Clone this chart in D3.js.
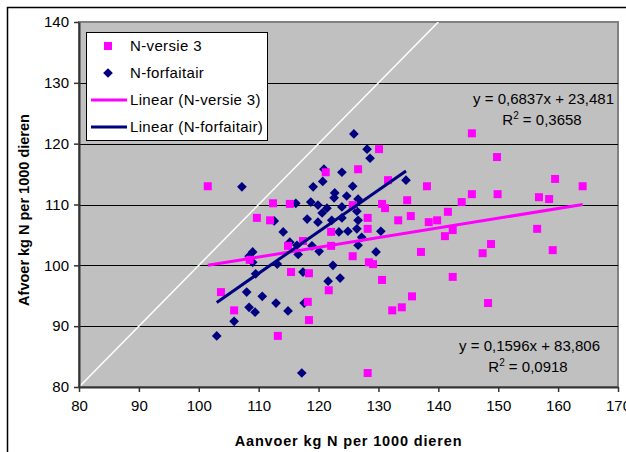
<!DOCTYPE html>
<html>
<head>
<meta charset="utf-8">
<script src="https://cdn.jsdelivr.net/npm/d3@7"></script>
<style>
  body { margin: 0; background: #fff; }
  text { font-family: "Liberation Sans", Arial, sans-serif; }
</style>
</head>
<body>
<svg id="chart" width="626" height="452"></svg>
<script>
// N-versie 3 (pink squares): [aanvoer, afvoer]
var versie3 = [
  [101.5,113.0],[103.7,95.6],[105.9,92.6],[109.7,107.8],[112.4,110.2],[115.2,110.1],
  [111.9,107.4],[108.5,100.9],[117.4,104.0],[114.9,103.2],[122.1,105.5],[122.1,103.2],
  [125.7,101.5],[128.2,107.8],[128.2,106.0],[128.4,100.5],[129.1,100.2],[130.6,97.6],
  [115.4,98.9],[118.4,98.7],[121.7,95.9],[118.2,94.0],[118.4,91.0],[113.2,88.4],
  [128.2,82.3],[121.2,115.3],[126.6,115.8],[130.1,119.1],[131.6,114.0],[125.7,109.9],
  [130.6,110.1],[131.1,109.4],[134.8,110.7],[138.1,113.0],[133.3,107.4],[135.4,108.1],
  [138.4,107.1],[139.8,107.4],[141.6,108.8],[143.9,110.4],[145.6,111.7],[145.6,121.7],
  [149.8,117.8],[149.9,111.7],[156.8,111.2],[158.5,110.9],[159.5,114.2],[164.1,113.0],
  [142.4,105.8],[141.1,104.8],[156.5,106.0],[137.1,102.2],[147.4,102.0],[148.8,103.5],
  [159.1,102.5],[142.4,98.1],[135.6,94.9],[133.9,93.1],[132.3,92.6],[148.3,93.8]
];
// N-forfaitair (navy diamonds)
var forfaitair = [
  [107.2,112.9],[103.0,88.4],[105.9,90.8],[108.4,93.1],[109.4,92.3],[108.0,95.6],
  [110.6,94.9],[112.9,93.8],[114.9,92.5],[117.6,93.8],[117.2,82.3],[109.5,98.6],
  [113.1,100.2],[117.4,98.9],[109.0,100.5],[108.4,101.5],[109.0,102.2],[112.6,107.3],
  [114.1,105.5],[115.2,103.8],[116.4,103.3],[116.6,101.8],[118.9,103.2],[120.1,102.3],
  [118.1,107.6],[119.9,107.1],[122.2,107.4],[123.9,107.8],[126.6,107.4],[116.2,110.2],
  [118.7,110.4],[119.9,109.9],[121.4,109.4],[123.9,109.6],[126.4,108.9],[120.6,108.6],
  [122.6,111.1],[122.7,111.9],[124.7,111.4],[126.6,110.9],[119.1,112.9],[125.7,113.0],
  [120.7,113.8],[120.9,115.8],[123.9,115.3],[125.9,121.6],[128.1,119.1],[128.6,117.6],
  [134.6,114.0],[123.4,105.5],[124.9,105.6],[126.4,106.0],[127.2,104.6],[130.4,105.6],
  [126.6,103.3],[129.6,102.2],[122.4,100.0],[121.6,97.4],[123.6,97.9]
];
// trendline coefficients as printed in the chart
var fitVersie3 = { slope: 0.1596, intercept: 83.806, label: "y = 0,1596x + 83,806", r2: "0,0918" };
var fitForfaitair = { slope: 0.6837, intercept: 23.481, label: "y = 0,6837x + 23,481", r2: "0,3658" };
var xTicks = [80, 90, 100, 110, 120, 130, 140, 150, 160, 170];
var yTicks = [80, 90, 100, 110, 120, 130, 140];
var legendItems = ["N-versie 3", "N-forfaitair", "Linear (N-versie 3)", "Linear (N-forfaitair)"];

(function () {
  var PINK = "#ff00ff", NAVY = "#000080";
  var svg = d3.select("#chart");
  var pl = 79, pr = 618, pt = 22, pb = 387;

  var x = d3.scaleLinear().domain([80, 170]).range([pl, pr]);
  var y = d3.scaleLinear().domain([80, 140]).range([pb, pt]);

  // outer chart border (runs past the right/bottom edge)
  svg.append("rect").attr("x", 7.5).attr("y", 7.5).attr("width", 640).attr("height", 460)
    .attr("fill", "#fff").attr("stroke", "#000").attr("stroke-width", 1.5);

  // plot area
  svg.append("rect").attr("x", pl).attr("y", pt).attr("width", pr - pl).attr("height", pb - pt)
    .attr("fill", "#c0c0c0").attr("stroke", "#808080").attr("stroke-width", 2);

  // horizontal gridlines
  svg.append("g").selectAll("line").data(yTicks.filter(function (d) { return d > 80 && d < 140; }))
    .enter().append("line")
    .attr("x1", pl).attr("x2", pr)
    .attr("y1", function (d) { return Math.round(y(d)) + 0.5; })
    .attr("y2", function (d) { return Math.round(y(d)) + 0.5; })
    .attr("stroke", "#000").attr("stroke-width", 1);

  svg.append("clipPath").attr("id", "plotclip").append("rect")
    .attr("x", pl).attr("y", pt).attr("width", pr - pl).attr("height", pb - pt);
  var plot = svg.append("g").attr("clip-path", "url(#plotclip)");

  // y = x reference line
  plot.append("line").attr("x1", x(80)).attr("y1", y(80)).attr("x2", x(140)).attr("y2", y(140))
    .attr("stroke", "#fff").attr("stroke-width", 1.5);

  // axes
  var xAxis = svg.append("g").attr("transform", "translate(0," + pb + ")")
    .call(d3.axisBottom(x).tickValues(xTicks).tickSize(5).tickSizeOuter(0));
  var yAxis = svg.append("g").attr("transform", "translate(" + pl + ",0)")
    .call(d3.axisLeft(y).tickValues(yTicks).tickSize(5).tickSizeOuter(0));
  [xAxis, yAxis].forEach(function (a) {
    a.select(".domain").attr("stroke", "#333").attr("stroke-width", 2);
    a.selectAll(".tick line").attr("stroke", "#333").attr("stroke-width", 1.5);
    a.selectAll(".tick text").attr("font-family", "Liberation Sans, Arial, sans-serif")
      .attr("font-size", 15).attr("fill", "#000");
  });
  xAxis.selectAll(".tick text").attr("dy", "1.05em");
  yAxis.selectAll(".tick text").attr("x", -10);

  // markers
  var diamond = d3.symbol().type(d3.symbolDiamond2).size(60);
  plot.append("g").selectAll("path").data(forfaitair).enter().append("path")
    .attr("d", diamond)
    .attr("transform", function (d) { return "translate(" + x(d[0]) + "," + y(d[1]) + ")"; })
    .attr("fill", NAVY);
  plot.append("g").selectAll("rect").data(versie3).enter().append("rect")
    .attr("x", function (d) { return x(d[0]) - 4; })
    .attr("y", function (d) { return y(d[1]) - 4; })
    .attr("width", 8).attr("height", 8).attr("fill", PINK);

  // trendlines across each series' x range
  function trend(data, fit, color) {
    var ext = d3.extent(data, function (d) { return d[0]; });
    var pts = ext.map(function (v) { return [v, fit.slope * v + fit.intercept]; });
    plot.append("path")
      .attr("d", d3.line().x(function (d) { return x(d[0]); }).y(function (d) { return y(d[1]); })(pts))
      .attr("stroke", color).attr("stroke-width", 3).attr("fill", "none");
  }
  trend(versie3, fitVersie3, PINK);
  trend(forfaitair, fitForfaitair, NAVY);

  // equation labels
  function eqLabel(fit, xr, yb) {
    var g = svg.append("g").attr("font-size", 15).attr("fill", "#000");
    g.append("text").attr("x", xr).attr("y", yb).attr("text-anchor", "end").text(fit.label);
    var t = g.append("text").attr("x", xr - 72).attr("y", yb + 21).attr("text-anchor", "middle");
    t.append("tspan").text("R");
    t.append("tspan").attr("font-size", 10).attr("dy", -6).text("2");
    t.append("tspan").attr("dy", 6).text(" = " + fit.r2);
  }
  eqLabel(fitForfaitair, 614, 104);
  eqLabel(fitVersie3, 600, 351);

  // axis titles
  svg.append("text").attr("x", (pl + pr) / 2).attr("y", 446).attr("text-anchor", "middle")
    .attr("font-weight", "bold").attr("font-size", 14.5).attr("letter-spacing", 0.85)
    .text("Aanvoer kg N per 1000 dieren");
  svg.append("text").attr("transform", "translate(29,210) rotate(-90)").attr("text-anchor", "middle")
    .attr("font-weight", "bold").attr("font-size", 14.5).text("Afvoer kg N per 1000 dieren");

  // legend
  var lg = svg.append("g");
  lg.append("rect").attr("x", 86.5).attr("y", 32.5).attr("width", 181).attr("height", 108)
    .attr("fill", "#fff").attr("stroke", "#000").attr("stroke-width", 1);
  var rowY = d3.scalePoint().domain(legendItems).range([46, 127]);
  legendItems.forEach(function (name, i) {
    var cy = rowY(name);
    if (i === 0) {
      lg.append("rect").attr("x", 104).attr("y", cy - 4).attr("width", 8).attr("height", 8).attr("fill", PINK);
    } else if (i === 1) {
      lg.append("path").attr("d", diamond).attr("transform", "translate(108," + cy + ")").attr("fill", NAVY);
    } else {
      lg.append("line").attr("x1", 91).attr("x2", 127).attr("y1", cy).attr("y2", cy)
        .attr("stroke", i === 2 ? PINK : NAVY).attr("stroke-width", 3);
    }
    lg.append("text").attr("x", 130).attr("y", cy + 5).attr("font-size", 15)
      .attr("letter-spacing", 0.35).text(name);
  });
})();
</script>
</body>
</html>
